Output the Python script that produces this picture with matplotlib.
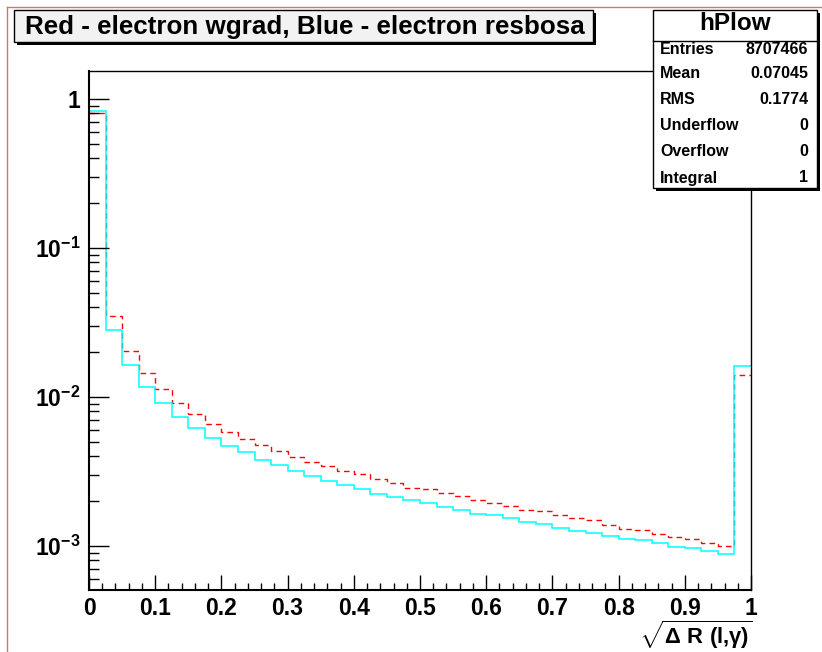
import matplotlib
matplotlib.use('Agg')
import matplotlib.pyplot as plt
import numpy as np
from matplotlib.patches import Rectangle
from matplotlib.lines import Line2D
from matplotlib.ticker import LogLocator, NullFormatter, MultipleLocator

plt.rcParams['font.family'] = ['Liberation Sans', 'DejaVu Sans']
plt.rcParams['font.weight'] = 'bold'
plt.rcParams['mathtext.fontset'] = 'custom'
plt.rcParams['mathtext.rm'] = 'Liberation Sans:bold'
plt.rcParams['mathtext.bf'] = 'Liberation Sans:bold'
plt.rcParams['mathtext.it'] = 'Liberation Sans:bold'
plt.rcParams['mathtext.sf'] = 'Liberation Sans:bold'

# ---- data (40 bins of 0.025 on [0,1], normalised to 1) ----
bin_edges = np.linspace(0.0, 1.0, 41)
wgrad_red = [0.80, 0.0351, 0.0204, 0.0144, 0.01127, 0.00916, 0.00773, 0.00662,
             0.00582, 0.00525, 0.00474, 0.00432, 0.00396, 0.00368, 0.00343,
             0.00321, 0.00303, 0.00282, 0.00266, 0.00246, 0.00240, 0.00226,
             0.00217, 0.00204, 0.00195, 0.00185, 0.00175, 0.00171, 0.00162,
             0.00153, 0.00149, 0.00139, 0.00131, 0.00128, 0.00120, 0.00115,
             0.00111, 0.00105, 0.00100, 0.0141]
resbosa_cyan = [0.835, 0.0282, 0.0163, 0.0116, 0.00908, 0.00731, 0.00616,
                0.00533, 0.00471, 0.00425, 0.00376, 0.00348, 0.00319, 0.00294,
                0.00274, 0.00257, 0.00240, 0.00222, 0.00214, 0.00204, 0.00194,
                0.00182, 0.00175, 0.00164, 0.00161, 0.00153, 0.00145, 0.00140,
                0.00132, 0.00127, 0.00122, 0.00117, 0.00112, 0.00109, 0.00105,
                0.000989, 0.000970, 0.000931, 0.000884, 0.01615]
x_ticks = [0.0, 0.1, 0.2, 0.3, 0.4, 0.5, 0.6, 0.7, 0.8, 0.9, 1.0]
x_tick_labels = ['0', '0.1', '0.2', '0.3', '0.4', '0.5', '0.6', '0.7', '0.8', '0.9', '1']
y_ticks = [1e-3, 1e-2, 1e-1, 1.0]
y_tick_labels = [r'$\mathbf{10^{-3}}$', r'$\mathbf{10^{-2}}$', r'$\mathbf{10^{-1}}$', '1']
title_text = 'Red - electron wgrad, Blue - electron resbosa'
stats_name = 'hPlow'
stats_labels = ['Entries', 'Mean', 'RMS', 'Underflow', 'Overflow', 'Integral']
stats_values = ['8707466', '0.07045', '0.1774', '0', '0', '1']

W, H = 822, 652
fig = plt.figure(figsize=(W / 100, H / 100), dpi=100)
fig.patch.set_facecolor('white')


def fx(x):
    return x / W


def fy(y):
    return 1 - y / H


ax = fig.add_axes([fx(89), fy(590), (751 - 89) / W, (590 - 71) / H])
ax.stairs(wgrad_red, bin_edges, baseline=None, color='red', lw=1.0,
          linestyle=(0, (4, 3)))
ax.stairs(resbosa_cyan, bin_edges, baseline=None, color='cyan', lw=1.1)
ax.set_yscale('log')
ax.set_xlim(0, 1)
ax.set_ylim(10 ** (-(590 - 99) / 149.0), 10 ** ((99 - 71) / 149.0))

ax.set_xticks(x_ticks, labels=x_tick_labels)
ax.xaxis.set_minor_locator(MultipleLocator(0.02))
ax.set_yticks(y_ticks, labels=y_tick_labels)
ax.yaxis.set_minor_locator(LogLocator(base=10, subs=np.arange(2, 10)))
ax.yaxis.set_minor_formatter(NullFormatter())

ax.tick_params(axis='x', which='major', direction='in', length=10.8, width=1,
               pad=5.0, labelsize=16.5)
ax.tick_params(axis='x', which='minor', direction='in', length=5, width=1)
ax.tick_params(axis='y', which='major', direction='in', length=14.4, width=1,
               pad=6, labelsize=16.5)
ax.tick_params(axis='y', which='minor', direction='in', length=7.2, width=1)
for lab in ax.get_xticklabels() + ax.get_yticklabels():
    lab.set_fontweight('bold')

ax.spines['left'].set_linewidth(1.5)
ax.spines['bottom'].set_linewidth(1.5)
ax.spines['top'].set_linewidth(1.0)
ax.spines['right'].set_linewidth(1.0)

fig.text(fx(753), fy(619), r'$\sqrt{\Delta\ R\ (l{,}\gamma)}$',
         ha='right', va='top', fontsize=15.8)

# canvas border (partly visible)
fig.add_artist(Line2D([fx(6.5), fx(6.5)], [0, fy(6.5)], color='#cc7777', lw=1,
                      transform=fig.transFigure))
fig.add_artist(Line2D([fx(6.5), 1], [fy(6.5), fy(6.5)], color='#cc7777', lw=1,
                      transform=fig.transFigure))

# title box
tx0, tx1, ty0, ty1 = 14, 593, 10, 42
fig.patches.append(Rectangle((fx(tx0 + 3), fy(ty1 + 3)), (tx1 - tx0) / W, (ty1 - ty0) / H,
                             transform=fig.transFigure, facecolor='black',
                             edgecolor='none', zorder=5))
fig.patches.append(Rectangle((fx(tx0), fy(ty1)), (tx1 - tx0) / W, (ty1 - ty0) / H,
                             transform=fig.transFigure, facecolor='#f2f2f2',
                             edgecolor='black', lw=1, zorder=6))
fig.text(fx(25), fy(27), title_text, fontsize=18.7, fontweight='bold',
         ha='left', va='center', zorder=7)

# stats box
sx0, sx1, sy0, sy1 = 653, 817, 10, 188
fig.patches.append(Rectangle((fx(sx0 + 3), fy(sy1 + 3)), (sx1 - sx0) / W, (sy1 - sy0) / H,
                             transform=fig.transFigure, facecolor='black',
                             edgecolor='none', zorder=5))
fig.patches.append(Rectangle((fx(sx0), fy(sy1)), (sx1 - sx0) / W, (sy1 - sy0) / H,
                             transform=fig.transFigure, facecolor='white',
                             edgecolor='black', lw=1, zorder=6))
fig.add_artist(Line2D([fx(sx0), fx(sx1)], [fy(41), fy(41)], color='black', lw=1,
                      transform=fig.transFigure, zorder=7))
fig.text(fx((sx0 + sx1) / 2), fy(24), stats_name, fontsize=17.5, fontweight='bold',
         ha='center', va='center', zorder=7)
row_y = [49, 74, 99.5, 126, 152, 178]
for yy, lab, val in zip(row_y, stats_labels, stats_values):
    fig.text(fx(660), fy(yy), lab, fontsize=11.5, fontweight='bold',
             ha='left', va='center', zorder=7)
    fig.text(fx(808), fy(yy), val, fontsize=11.5, fontweight='bold',
             ha='right', va='center', zorder=7)

fig.savefig('out.png', dpi=100)
